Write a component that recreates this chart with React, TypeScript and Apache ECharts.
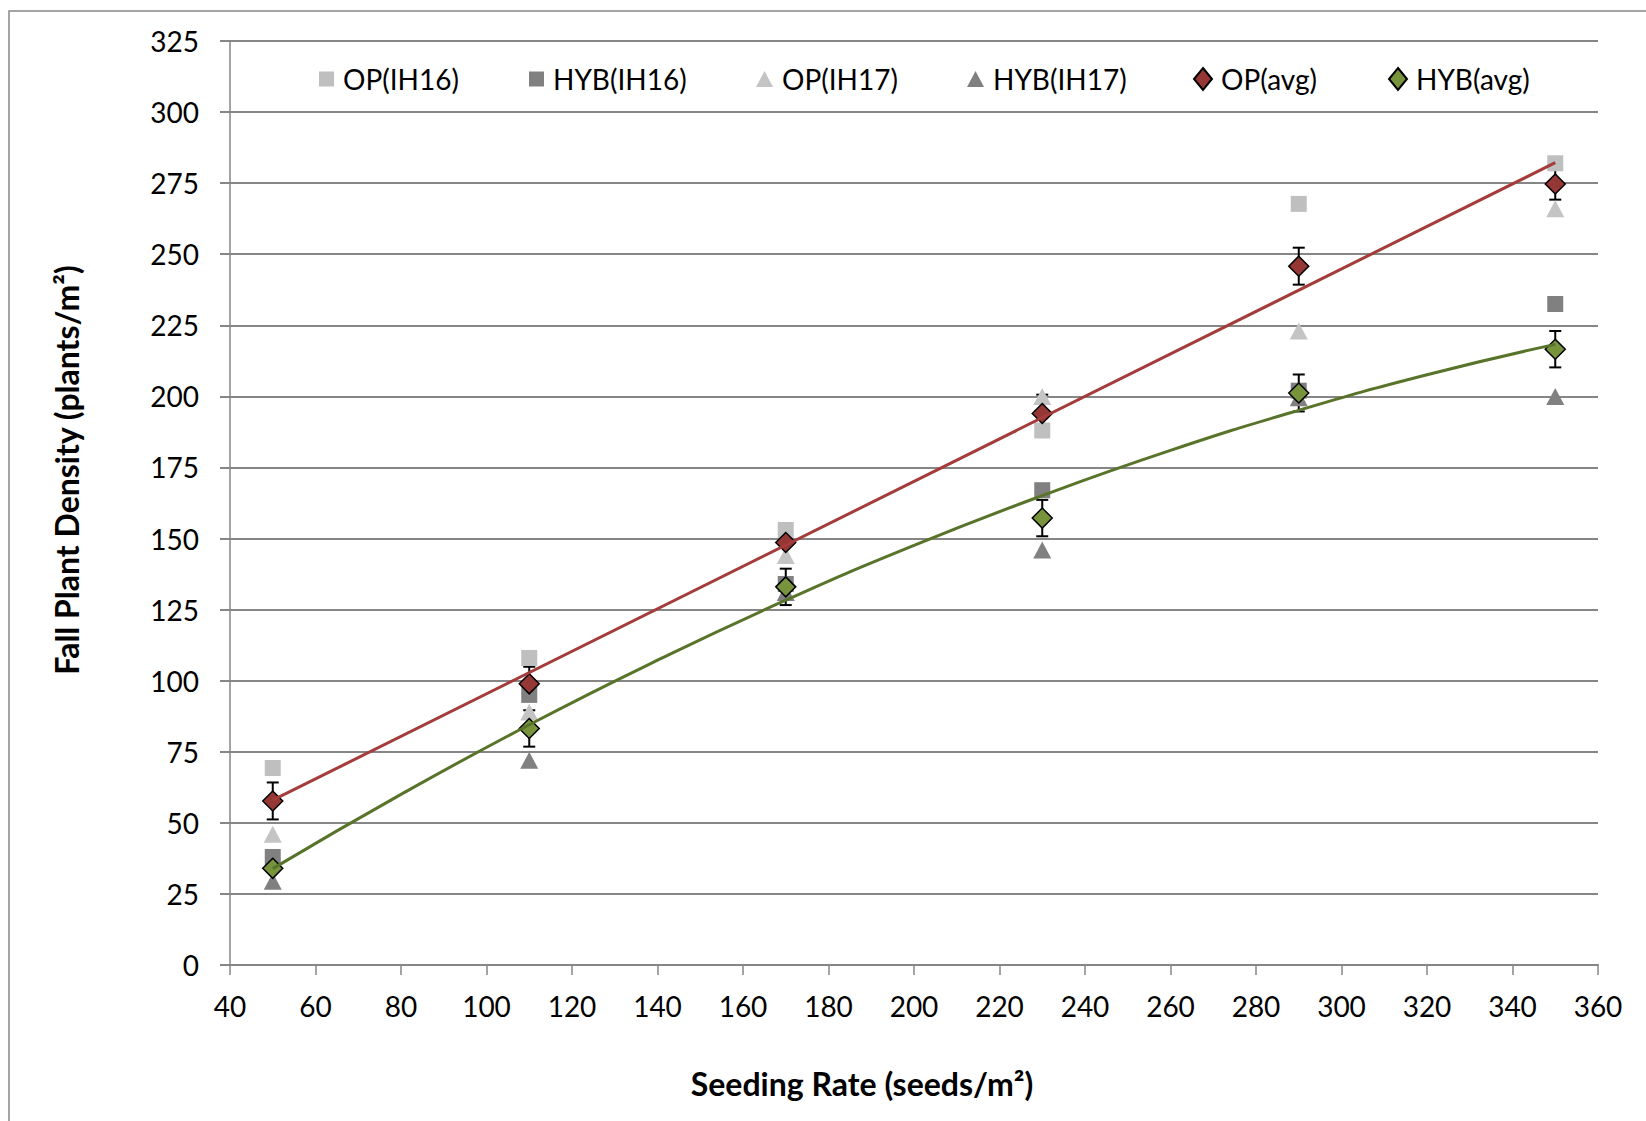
import React, { useEffect, useRef } from "react";
import * as echarts from "echarts";

// ---- data ----
const seedingRates = [50, 110, 170, 230, 290, 350];
const opIH16 = [69.3, 108, 153, 188, 267.7, 282];
const hybIH16 = [38, 95, 134, 167, 202, 232.5];
const opIH17 = [46, 89, 144, 200, 223, 266];
const hybIH17 = [29.5, 72, 131, 146, 199.5, 200];
const opAvg = [57.7, 98.9, 148.6, 194, 245.8, 274.7];
const hybAvg = [34, 83.2, 133, 157.2, 201.2, 216.6];
const opErr = [6.5, 6.0, 6.4, 6.6, 6.5, 5.5];
const hybErr = [6.4, 6.4, 6.4, 6.4, 6.5, 6.4];

// trend lines
const opTrendX = [50, 350];
const opTrendY = [58.0, 282.2];
const hybTrendX = [50, 80, 110, 140, 170, 200, 230, 260, 290, 320, 350];
const hybTrendY = [33.9, 60.0, 84.5, 107.2, 128.3, 147.6, 165.1, 181.0, 195.1, 207.6, 218.3];

const yTicks = { min: 0, max: 325, interval: 25 };
const xTicks = { min: 40, max: 360, interval: 20 };

const FONT = "Lato";

const pairs = (xs: number[], ys: number[]) => xs.map((x, i) => [x, ys[i]]);
const errData = (avg: number[], err: number[]) =>
  seedingRates.map((x, i) => [x, avg[i] - err[i], avg[i] + err[i]]);

const renderErr = (params: any, api: any) => {
  const x = api.value(0);
  const lo = api.value(1);
  const hi = api.value(2);
  const top = api.coord([x, hi]);
  const bot = api.coord([x, lo]);
  const hw = 6;
  const style = { stroke: "#000", lineWidth: 2, fill: "none" };
  return {
    type: "group",
    children: [
      { type: "line", shape: { x1: top[0], y1: top[1], x2: bot[0], y2: bot[1] }, style },
      { type: "line", shape: { x1: top[0] - hw, y1: top[1], x2: top[0] + hw, y2: top[1] }, style },
      { type: "line", shape: { x1: bot[0] - hw, y1: bot[1], x2: bot[0] + hw, y2: bot[1] }, style },
    ],
  };
};

const legendItem = (name: string, left: number, w: number, h: number) => ({
  data: [name],
  left,
  top: 59,
  itemWidth: w,
  itemHeight: h,
  itemGap: 0,
  selectedMode: false,
  textStyle: { fontFamily: FONT, fontSize: 28, color: "#000", lineHeight: 30, padding: [0, 0, 0, 4] },
});

export default function App() {
  const ref = useRef<HTMLDivElement>(null);
  useEffect(() => {
    if (!ref.current) return;
    const chart = echarts.init(ref.current, null, { renderer: "svg" });
    const option: any = {
      animation: false,
      backgroundColor: "#fff",
      grid: { left: 230, right: 48, top: 41, bottom: 156 },
      legend: [
        legendItem("OP(IH16)", 314, 15, 15),
        legendItem("HYB(IH16)", 524, 15, 15),
        legendItem("OP(IH17)", 751, 17, 16),
        legendItem("HYB(IH17)", 962, 17, 16),
        legendItem("OP(avg)", 1188, 18, 22),
        legendItem("HYB(avg)", 1383, 18, 22),
      ],
      graphic: [
        {
          type: "rect",
          z: -10,
          shape: { x: 9, y: 11, width: 1700, height: 1200 },
          style: { fill: "none", stroke: "#868686", lineWidth: 1.5 },
        },
      ],
      xAxis: {
        type: "value",
        ...xTicks,
        name: "Seeding Rate (seeds/m²)",
        nameLocation: "middle",
        nameGap: 102,
        nameTextStyle: {
          fontFamily: FONT,
          fontSize: 32,
          fontWeight: "bold",
          color: "#000",
          padding: [0, 104, 0, 0],
        },
        axisLine: { show: true, onZero: false, lineStyle: { color: "#868686", width: 2 } },
        axisTick: { show: true, length: 10, lineStyle: { color: "#868686", width: 1.5 } },
        axisLabel: { fontFamily: FONT, fontSize: 28, color: "#000", margin: 27 },
        splitLine: { show: false },
      },
      yAxis: {
        type: "value",
        ...yTicks,
        name: "Fall Plant Density (plants/m²)",
        nameLocation: "middle",
        nameGap: 148,
        nameTextStyle: {
          fontFamily: FONT,
          fontSize: 32,
          fontWeight: "bold",
          color: "#000",
          padding: [0, 0, 0, 66],
        },
        axisLine: { show: true, lineStyle: { color: "#868686", width: 1.5 } },
        axisTick: { show: true, inside: false, length: 10, lineStyle: { color: "#868686", width: 2 } },
        axisLabel: { fontFamily: FONT, fontSize: 28, color: "#000", margin: 31 },
        splitLine: { show: true, lineStyle: { color: "#868686", width: 2 } },
      },
      series: [
        {
          type: "custom",
          name: "opErr",
          renderItem: renderErr,
          data: errData(opAvg, opErr),
          encode: { x: 0, y: [1, 2] },
          silent: true,
        },
        {
          type: "custom",
          name: "hybErr",
          renderItem: renderErr,
          data: errData(hybAvg, hybErr),
          encode: { x: 0, y: [1, 2] },
          silent: true,
        },
        {
          type: "scatter",
          name: "OP(IH16)",
          symbol: "rect",
          symbolSize: 16,
          itemStyle: { color: "#BFBFBF", opacity: 1 },
          data: pairs(seedingRates, opIH16),
        },
        {
          type: "scatter",
          name: "HYB(IH16)",
          symbol: "rect",
          symbolSize: 16,
          itemStyle: { color: "#808080", opacity: 1 },
          data: pairs(seedingRates, hybIH16),
        },
        {
          type: "scatter",
          name: "OP(IH17)",
          symbol: "triangle",
          symbolSize: [18, 17],
          itemStyle: { color: "#C4C4C4", opacity: 1 },
          data: pairs(seedingRates, opIH17),
        },
        {
          type: "scatter",
          name: "HYB(IH17)",
          symbol: "triangle",
          symbolSize: [18, 17],
          itemStyle: { color: "#808080", opacity: 1 },
          data: pairs(seedingRates, hybIH17),
        },
        {
          type: "scatter",
          name: "OP(avg)",
          symbol: "diamond",
          symbolSize: [20, 20],
          itemStyle: { color: "#953735", borderColor: "#000", borderWidth: 1.5, opacity: 1 },
          data: pairs(seedingRates, opAvg),
        },
        {
          type: "scatter",
          name: "HYB(avg)",
          symbol: "diamond",
          symbolSize: [20, 20],
          itemStyle: { color: "#77933C", borderColor: "#000", borderWidth: 1.5, opacity: 1 },
          data: pairs(seedingRates, hybAvg),
        },
        {
          type: "line",
          name: "OP trend",
          symbol: "none",
          silent: true,
          lineStyle: { color: "#A33C3A", width: 3 },
          data: pairs(opTrendX, opTrendY),
        },
        {
          type: "line",
          name: "HYB trend",
          symbol: "none",
          smooth: true,
          silent: true,
          lineStyle: { color: "#58742A", width: 3 },
          data: pairs(hybTrendX, hybTrendY),
        },
      ],
    };
    chart.setOption(option);
    return () => chart.dispose();
  }, []);
  return (
    <div
      ref={ref}
      style={{ position: "absolute", left: 0, top: 0, width: 1646, height: 1121, background: "#fff" }}
    />
  );
}
